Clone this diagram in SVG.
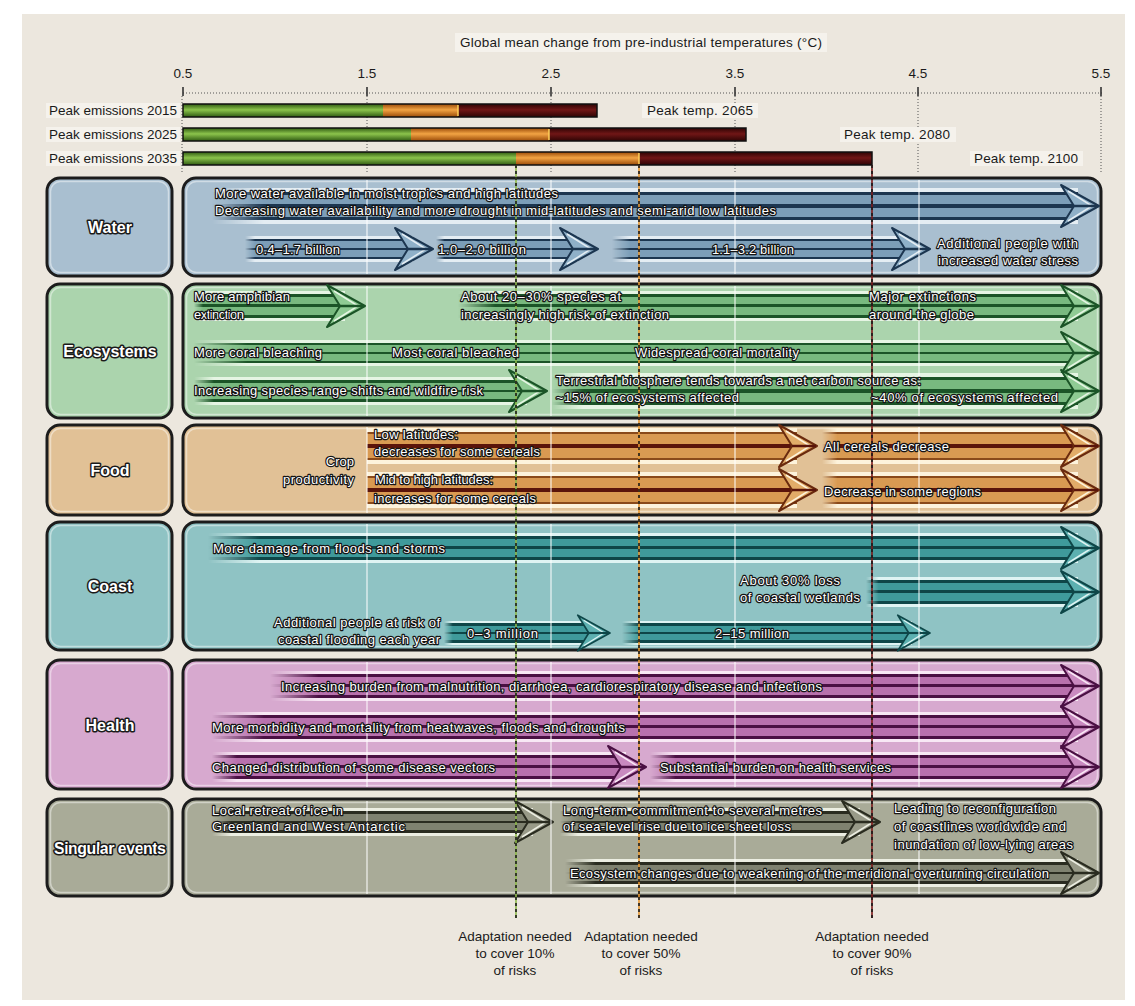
<svg xmlns="http://www.w3.org/2000/svg" width="1135" height="1006" viewBox="0 0 1135 1006">
<style>
.ax{font-family:"Liberation Sans Narrow","Liberation Sans",Arial,sans-serif;font-size:13.5px;fill:#1a1a1a}
.lab{font-family:"Liberation Sans Narrow","Liberation Sans",Arial,sans-serif;font-weight:bold;font-size:16px;fill:#fff;stroke:#1a1a1a;stroke-width:3;paint-order:stroke;stroke-linejoin:round;text-anchor:middle}
.t{font-family:"Liberation Sans Narrow","Liberation Sans",Arial,sans-serif;font-size:13px;fill:#fff;stroke:#151515;stroke-width:2.4;paint-order:stroke;stroke-linejoin:round}
.box{stroke:#1c1c1c;stroke-width:3}
.inner{fill:none;stroke:#ffffff;stroke-opacity:.45;stroke-width:1.5}
.grid{stroke:#ffffff;stroke-opacity:.85;stroke-width:1.2}
.dot{stroke:#555;stroke-width:1;stroke-dasharray:1 2}
.hb{fill:#f5f2ec}
</style>
<defs>
<linearGradient id="fg" x1="0" y1="0" x2="1" y2="0"><stop offset="0" stop-color="#000"/><stop offset="0.06" stop-color="#fff"/></linearGradient>
<mask id="fade" maskContentUnits="objectBoundingBox"><rect width="1" height="1" fill="url(#fg)"/></mask>
<linearGradient id="bW" x1="0" y1="0" x2="0" y2="1"><stop offset="0" stop-color="#e4edf3"/><stop offset=".1" stop-color="#e4edf3"/><stop offset=".1" stop-color="#1c3650"/><stop offset=".2" stop-color="#1c3650"/><stop offset=".2" stop-color="#7c9eb8"/><stop offset=".45" stop-color="#7c9eb8"/><stop offset=".45" stop-color="#1c3650"/><stop offset=".55" stop-color="#1c3650"/><stop offset=".55" stop-color="#7c9eb8"/><stop offset=".8" stop-color="#7c9eb8"/><stop offset=".8" stop-color="#1c3650"/><stop offset=".9" stop-color="#1c3650"/><stop offset=".9" stop-color="#e4edf3"/><stop offset="1" stop-color="#e4edf3"/></linearGradient>
<linearGradient id="bE" x1="0" y1="0" x2="0" y2="1"><stop offset="0" stop-color="#e6f5e4"/><stop offset=".1" stop-color="#e6f5e4"/><stop offset=".1" stop-color="#1b5427"/><stop offset=".2" stop-color="#1b5427"/><stop offset=".2" stop-color="#78b97f"/><stop offset=".45" stop-color="#78b97f"/><stop offset=".45" stop-color="#1b5427"/><stop offset=".55" stop-color="#1b5427"/><stop offset=".55" stop-color="#78b97f"/><stop offset=".8" stop-color="#78b97f"/><stop offset=".8" stop-color="#1b5427"/><stop offset=".9" stop-color="#1b5427"/><stop offset=".9" stop-color="#e6f5e4"/><stop offset="1" stop-color="#e6f5e4"/></linearGradient>
<linearGradient id="bF" x1="0" y1="0" x2="0" y2="1"><stop offset="0" stop-color="#fdf3dc"/><stop offset=".1" stop-color="#fdf3dc"/><stop offset=".1" stop-color="#8a4a1a"/><stop offset=".18" stop-color="#8a4a1a"/><stop offset=".18" stop-color="#d99a52"/><stop offset=".45" stop-color="#d99a52"/><stop offset=".45" stop-color="#5a140a"/><stop offset=".55" stop-color="#5a140a"/><stop offset=".55" stop-color="#d99a52"/><stop offset=".82" stop-color="#d99a52"/><stop offset=".82" stop-color="#8a4a1a"/><stop offset=".9" stop-color="#8a4a1a"/><stop offset=".9" stop-color="#fdf3dc"/><stop offset="1" stop-color="#fdf3dc"/></linearGradient>
<linearGradient id="bC" x1="0" y1="0" x2="0" y2="1"><stop offset="0" stop-color="#dff4f3"/><stop offset=".1" stop-color="#dff4f3"/><stop offset=".1" stop-color="#0e4648"/><stop offset=".2" stop-color="#0e4648"/><stop offset=".2" stop-color="#3f9a9b"/><stop offset=".45" stop-color="#3f9a9b"/><stop offset=".45" stop-color="#0e4648"/><stop offset=".55" stop-color="#0e4648"/><stop offset=".55" stop-color="#3f9a9b"/><stop offset=".8" stop-color="#3f9a9b"/><stop offset=".8" stop-color="#0e4648"/><stop offset=".9" stop-color="#0e4648"/><stop offset=".9" stop-color="#dff4f3"/><stop offset="1" stop-color="#dff4f3"/></linearGradient>
<linearGradient id="bH" x1="0" y1="0" x2="0" y2="1"><stop offset="0" stop-color="#f8e8f5"/><stop offset=".1" stop-color="#f8e8f5"/><stop offset=".1" stop-color="#4a1043"/><stop offset=".2" stop-color="#4a1043"/><stop offset=".2" stop-color="#b871ad"/><stop offset=".45" stop-color="#b871ad"/><stop offset=".45" stop-color="#4a1043"/><stop offset=".55" stop-color="#4a1043"/><stop offset=".55" stop-color="#b871ad"/><stop offset=".8" stop-color="#b871ad"/><stop offset=".8" stop-color="#4a1043"/><stop offset=".9" stop-color="#4a1043"/><stop offset=".9" stop-color="#f8e8f5"/><stop offset="1" stop-color="#f8e8f5"/></linearGradient>
<linearGradient id="bS" x1="0" y1="0" x2="0" y2="1"><stop offset="0" stop-color="#eceee2"/><stop offset=".1" stop-color="#eceee2"/><stop offset=".1" stop-color="#2a2c20"/><stop offset=".2" stop-color="#2a2c20"/><stop offset=".2" stop-color="#7f8270"/><stop offset=".45" stop-color="#7f8270"/><stop offset=".45" stop-color="#2a2c20"/><stop offset=".55" stop-color="#2a2c20"/><stop offset=".55" stop-color="#7f8270"/><stop offset=".8" stop-color="#7f8270"/><stop offset=".8" stop-color="#2a2c20"/><stop offset=".9" stop-color="#2a2c20"/><stop offset=".9" stop-color="#eceee2"/><stop offset="1" stop-color="#eceee2"/></linearGradient>
<linearGradient id="gG" x1="0" y1="0" x2="0" y2="1"><stop offset="0" stop-color="#2f5a12"/><stop offset=".45" stop-color="#8cc44c"/><stop offset="1" stop-color="#2f5a12"/></linearGradient>
<linearGradient id="gO" x1="0" y1="0" x2="0" y2="1"><stop offset="0" stop-color="#9a4a08"/><stop offset=".45" stop-color="#f2a444"/><stop offset="1" stop-color="#9a4a08"/></linearGradient>
<linearGradient id="gR" x1="0" y1="0" x2="0" y2="1"><stop offset="0" stop-color="#2e0404"/><stop offset=".45" stop-color="#701616"/><stop offset="1" stop-color="#2e0404"/></linearGradient>
<g id="hW"><polygon points="-38,-21 0,0 -38,21 -25,0" fill="#8fb0c8" stroke="#1c3650" stroke-width="2" stroke-linejoin="round"/><polyline points="-31,-15 -7,0 -31,15" fill="none" stroke="#e4edf3" stroke-width="1.5"/><line x1="-25" y1="0" x2="-1" y2="0" stroke="#1c3650" stroke-width="2.5"/></g>
<g id="hE"><polygon points="-38,-21 0,0 -38,21 -25,0" fill="#8fcb94" stroke="#1b5427" stroke-width="2" stroke-linejoin="round"/><polyline points="-31,-15 -7,0 -31,15" fill="none" stroke="#e6f5e4" stroke-width="1.5"/><line x1="-25" y1="0" x2="-1" y2="0" stroke="#1b5427" stroke-width="2.5"/></g>
<g id="hF"><polygon points="-38,-21 0,0 -38,21 -25,0" fill="#e2ac68" stroke="#6a2a0e" stroke-width="2" stroke-linejoin="round"/><polyline points="-31,-15 -7,0 -31,15" fill="none" stroke="#fdf3dc" stroke-width="1.5"/><line x1="-25" y1="0" x2="-1" y2="0" stroke="#5a140a" stroke-width="2.5"/></g>
<g id="hC"><polygon points="-38,-21 0,0 -38,21 -25,0" fill="#5cb0b0" stroke="#0e4648" stroke-width="2" stroke-linejoin="round"/><polyline points="-31,-15 -7,0 -31,15" fill="none" stroke="#dff4f3" stroke-width="1.5"/><line x1="-25" y1="0" x2="-1" y2="0" stroke="#0e4648" stroke-width="2.5"/></g>
<g id="hH"><polygon points="-38,-21 0,0 -38,21 -25,0" fill="#c98ac0" stroke="#4a1043" stroke-width="2" stroke-linejoin="round"/><polyline points="-31,-15 -7,0 -31,15" fill="none" stroke="#f8e8f5" stroke-width="1.5"/><line x1="-25" y1="0" x2="-1" y2="0" stroke="#4a1043" stroke-width="2.5"/></g>
<g id="hS"><polygon points="-38,-21 0,0 -38,21 -25,0" fill="#989a88" stroke="#2a2c20" stroke-width="2" stroke-linejoin="round"/><polyline points="-31,-15 -7,0 -31,15" fill="none" stroke="#eceee2" stroke-width="1.5"/><line x1="-25" y1="0" x2="-1" y2="0" stroke="#2a2c20" stroke-width="2.5"/></g>
</defs>

<rect width="1135" height="1006" fill="#ffffff"/>
<rect x="22" y="14" width="1103" height="986" fill="#ece7de"/>

<g id="axis">
<rect class="hb" x="455" y="33" width="372" height="19"/>
<text class="ax" x="641" y="47" text-anchor="middle" textLength="362">Global mean change from pre-industrial temperatures (°C)</text>
<text class="ax" x="183" y="78" text-anchor="middle">0.5</text>
<text class="ax" x="367" y="78" text-anchor="middle">1.5</text>
<text class="ax" x="551" y="78" text-anchor="middle">2.5</text>
<text class="ax" x="735" y="78" text-anchor="middle">3.5</text>
<text class="ax" x="918" y="78" text-anchor="middle">4.5</text>
<text class="ax" x="1101" y="78" text-anchor="middle">5.5</text>
<line class="dot" x1="183" y1="93" x2="1102" y2="93"/>
<g stroke="#333" stroke-width="1.6">
<line x1="183" y1="87" x2="183" y2="96"/><line x1="367" y1="87" x2="367" y2="96"/><line x1="551" y1="87" x2="551" y2="96"/><line x1="735" y1="87" x2="735" y2="96"/><line x1="918" y1="87" x2="918" y2="96"/><line x1="1101" y1="87" x2="1101" y2="96"/>
</g>
<g class="dot"><line x1="182" y1="96" x2="182" y2="172"/><line x1="367" y1="96" x2="367" y2="172"/><line x1="551" y1="96" x2="551" y2="172"/><line x1="735" y1="96" x2="735" y2="172"/><line x1="918" y1="96" x2="918" y2="172"/><line x1="1101" y1="96" x2="1101" y2="172"/></g>
</g>

<g id="bars">
<rect class="hb" x="46" y="103" width="134" height="15"/>
<rect class="hb" x="46" y="127" width="134" height="15"/>
<rect class="hb" x="46" y="151" width="134" height="15"/>
<text class="ax" x="177" y="115" text-anchor="end" textLength="128">Peak emissions 2015</text>
<text class="ax" x="177" y="139" text-anchor="end" textLength="128">Peak emissions 2025</text>
<text class="ax" x="177" y="163" text-anchor="end" textLength="128">Peak emissions 2035</text>
<rect x="183" y="104" width="200" height="13" fill="url(#gG)"/><rect x="383" y="104" width="75" height="13" fill="url(#gO)"/><rect x="458" y="104" width="139" height="13" fill="url(#gR)"/>
<line x1="458" y1="105" x2="458" y2="116" stroke="#ffd25a" stroke-width="1.5"/>
<rect x="183" y="104" width="414" height="13" fill="none" stroke="#111" stroke-width="1.5"/>
<rect x="183" y="128" width="228" height="13" fill="url(#gG)"/><rect x="411" y="128" width="138" height="13" fill="url(#gO)"/><rect x="549" y="128" width="197" height="13" fill="url(#gR)"/>
<line x1="549" y1="129" x2="549" y2="140" stroke="#ffd25a" stroke-width="1.5"/>
<rect x="183" y="128" width="563" height="13" fill="none" stroke="#111" stroke-width="1.5"/>
<rect x="183" y="152" width="333" height="13" fill="url(#gG)"/><rect x="516" y="152" width="123" height="13" fill="url(#gO)"/><rect x="639" y="152" width="233" height="13" fill="url(#gR)"/>
<line x1="639" y1="153" x2="639" y2="164" stroke="#ffd25a" stroke-width="1.5"/>
<rect x="183" y="152" width="689" height="13" fill="none" stroke="#111" stroke-width="1.5"/>
<rect class="hb" x="642" y="103" width="116" height="15"/>
<rect class="hb" x="840" y="127" width="116" height="15"/>
<rect class="hb" x="970" y="151" width="113" height="15"/>
<text class="ax" x="647" y="115" textLength="106">Peak temp. 2065</text>
<text class="ax" x="844" y="139" textLength="106">Peak temp. 2080</text>
<text class="ax" x="974" y="163" textLength="104">Peak temp. 2100</text>
</g>

<!-- Water -->
<g id="water">
<rect class="box" x="47" y="178" width="125" height="98" rx="13" fill="#a9bfd0"/>
<rect class="inner" x="50.5" y="181.5" width="118" height="91" rx="10"/>
<text class="lab" x="110" y="233">Water</text>
<rect class="box" x="183" y="178" width="918" height="98" rx="13" fill="#a9bfd0"/>
<rect class="inner" x="186.5" y="181.5" width="911" height="91" rx="10"/>
<rect x="212" y="188" width="866" height="36" fill="url(#bW)" mask="url(#fade)"/><use href="#hW" x="1099" y="206"/>
<rect x="245" y="236" width="168" height="26" fill="url(#bW)" mask="url(#fade)"/><use href="#hW" x="433" y="249"/>
<rect x="436" y="236" width="142" height="26" fill="url(#bW)" mask="url(#fade)"/><use href="#hW" x="598" y="249"/>
<rect x="612" y="236" width="298" height="26" fill="url(#bW)" mask="url(#fade)"/><use href="#hW" x="930" y="249"/>
</g>

<!-- Ecosystems -->
<g id="ecosystems">
<rect class="box" x="47" y="284" width="125" height="134" rx="13" fill="#abd4ad"/>
<rect class="inner" x="50.5" y="287.5" width="118" height="127" rx="10"/>
<text class="lab" x="110" y="357">Ecosystems</text>
<rect class="box" x="183" y="284" width="918" height="134" rx="13" fill="#abd4ad"/>
<rect class="inner" x="186.5" y="287.5" width="911" height="127" rx="10"/>
<rect x="194" y="291" width="151" height="30" fill="url(#bE)" mask="url(#fade)"/><use href="#hE" x="365" y="306"/>
<rect x="458" y="291" width="620" height="30" fill="url(#bE)" mask="url(#fade)"/><use href="#hE" x="1099" y="306"/>
<rect x="194" y="340" width="884" height="26" fill="url(#bE)" mask="url(#fade)"/><use href="#hE" x="1099" y="353"/>
<rect x="194" y="377" width="333" height="28" fill="url(#bE)" mask="url(#fade)"/><use href="#hE" x="547" y="391"/>
<rect x="552" y="373" width="526" height="36" fill="url(#bE)" mask="url(#fade)"/><use href="#hE" x="1099" y="391"/>
</g>

<!-- Food -->
<g id="food">
<rect class="box" x="47" y="425" width="125" height="90" rx="13" fill="#e1c196"/>
<rect class="inner" x="50.5" y="428.5" width="118" height="83" rx="10"/>
<text class="lab" x="110" y="476">Food</text>
<rect class="box" x="183" y="425" width="918" height="90" rx="13" fill="#e1c196"/>
<rect class="inner" x="186.5" y="428.5" width="911" height="83" rx="10"/>
<rect x="367" y="428" width="430" height="36" fill="url(#bF)"/><use href="#hF" x="817" y="446"/>
<rect x="822" y="428" width="256" height="36" fill="url(#bF)" mask="url(#fade)"/><use href="#hF" x="1099" y="446"/>
<rect x="367" y="472" width="430" height="36" fill="url(#bF)"/><use href="#hF" x="817" y="490"/>
<rect x="822" y="472" width="256" height="36" fill="url(#bF)" mask="url(#fade)"/><use href="#hF" x="1099" y="490"/>
</g>

<!-- Coast -->
<g id="coast">
<rect class="box" x="47" y="522" width="125" height="128" rx="13" fill="#8fc3c4"/>
<rect class="inner" x="50.5" y="525.5" width="118" height="121" rx="10"/>
<text class="lab" x="110" y="592">Coast</text>
<rect class="box" x="183" y="522" width="918" height="128" rx="13" fill="#8fc3c4"/>
<rect class="inner" x="186.5" y="525.5" width="911" height="121" rx="10"/>
<rect x="208" y="533" width="870" height="30" fill="url(#bC)" mask="url(#fade)"/><use href="#hC" x="1099" y="548"/>
<rect x="866" y="577" width="212" height="30" fill="url(#bC)" mask="url(#fade)"/><use href="#hC" x="1099" y="592"/>
<rect x="444" y="621" width="146" height="24" fill="url(#bC)" mask="url(#fade)"/><use href="#hC" transform="translate(610 633) scale(0.85)"/>
<rect x="622" y="621" width="290" height="24" fill="url(#bC)" mask="url(#fade)"/><use href="#hC" transform="translate(930 633) scale(0.85)"/>
</g>

<!-- Health -->
<g id="health">
<rect class="box" x="47" y="660" width="125" height="129" rx="13" fill="#d7a9cf"/>
<rect class="inner" x="50.5" y="663.5" width="118" height="122" rx="10"/>
<text class="lab" x="110" y="731">Health</text>
<rect class="box" x="183" y="660" width="918" height="129" rx="13" fill="#d7a9cf"/>
<rect class="inner" x="186.5" y="663.5" width="911" height="122" rx="10"/>
<rect x="270" y="671" width="808" height="30" fill="url(#bH)" mask="url(#fade)"/><use href="#hH" x="1099" y="686"/>
<rect x="212" y="712" width="866" height="30" fill="url(#bH)" mask="url(#fade)"/><use href="#hH" x="1099" y="727"/>
<rect x="212" y="752" width="414" height="30" fill="url(#bH)" mask="url(#fade)"/><use href="#hH" x="646" y="767"/>
<rect x="650" y="752" width="428" height="30" fill="url(#bH)" mask="url(#fade)"/><use href="#hH" x="1099" y="767"/>
</g>

<!-- Singular events -->
<g id="singular">
<rect class="box" x="47" y="799" width="125" height="97" rx="13" fill="#a9ab98"/>
<rect class="inner" x="50.5" y="802.5" width="118" height="90" rx="10"/>
<text class="lab" x="110" y="854" textLength="112">Singular events</text>
<rect class="box" x="183" y="799" width="918" height="97" rx="13" fill="#a9ab98"/>
<rect class="inner" x="186.5" y="802.5" width="911" height="90" rx="10"/>
<rect x="212" y="808" width="321" height="28" fill="url(#bS)" mask="url(#fade)"/><use href="#hS" x="553" y="822"/>
<rect x="560" y="808" width="300" height="28" fill="url(#bS)" mask="url(#fade)"/><use href="#hS" x="880" y="822"/>
<rect x="565" y="859" width="513" height="28" fill="url(#bS)" mask="url(#fade)"/><use href="#hS" x="1099" y="873"/>
</g>

<g id="gridlines">
<g class="grid">
<line x1="367" y1="180" x2="367" y2="274"/><line x1="551" y1="180" x2="551" y2="274"/><line x1="735" y1="180" x2="735" y2="274"/><line x1="919" y1="180" x2="919" y2="274"/>
<line x1="367" y1="286" x2="367" y2="416"/><line x1="551" y1="286" x2="551" y2="416"/><line x1="735" y1="286" x2="735" y2="416"/><line x1="919" y1="286" x2="919" y2="416"/>
<line x1="367" y1="427" x2="367" y2="513"/><line x1="551" y1="427" x2="551" y2="513"/><line x1="735" y1="427" x2="735" y2="513"/><line x1="919" y1="427" x2="919" y2="513"/>
<line x1="367" y1="524" x2="367" y2="648"/><line x1="551" y1="524" x2="551" y2="648"/><line x1="735" y1="524" x2="735" y2="648"/><line x1="919" y1="524" x2="919" y2="648"/>
<line x1="367" y1="662" x2="367" y2="787"/><line x1="551" y1="662" x2="551" y2="787"/><line x1="735" y1="662" x2="735" y2="787"/><line x1="919" y1="662" x2="919" y2="787"/>
<line x1="367" y1="801" x2="367" y2="894"/><line x1="551" y1="801" x2="551" y2="894"/><line x1="735" y1="801" x2="735" y2="894"/><line x1="919" y1="801" x2="919" y2="894"/>
</g>
</g>

<g id="connectors">
<line x1="516" y1="165" x2="516" y2="918" stroke="#8cb848" stroke-width="1.6"/>
<line x1="516" y1="165" x2="516" y2="918" stroke="#1a1a1a" stroke-width="1.6" stroke-dasharray="3 3"/>
<line x1="639" y1="165" x2="639" y2="918" stroke="#e8962e" stroke-width="1.6"/>
<line x1="639" y1="165" x2="639" y2="918" stroke="#1a1a1a" stroke-width="1.6" stroke-dasharray="3 3"/>
<line x1="872" y1="165" x2="872" y2="918" stroke="#7a1a1a" stroke-width="1.6"/>
<line x1="872" y1="165" x2="872" y2="918" stroke="#1a1a1a" stroke-width="1.6" stroke-dasharray="3 3"/>
</g>

<g id="texts">
<text class="t" x="215" y="198" textLength="343">More water available in moist tropics and high latitudes</text>
<text class="t" x="215" y="215" textLength="561">Decreasing water availability and more drought in mid-latitudes and semi-arid low latitudes</text>
<text class="t" x="256" y="254" textLength="84">0.4–1.7 billion</text>
<text class="t" x="438" y="254" textLength="88">1.0–2.0 billion</text>
<text class="t" x="712" y="254" textLength="82">1.1–3.2 billion</text>
<text class="t" x="937" y="248" textLength="141">Additional people with</text>
<text class="t" x="938" y="265" textLength="140">increased water stress</text>

<text class="t" x="194" y="301" textLength="96">More amphibian</text>
<text class="t" x="194" y="319" textLength="50">extinction</text>
<text class="t" x="461" y="301" textLength="160">About 20–30% species at</text>
<text class="t" x="461" y="319" textLength="208">increasingly high risk of extinction</text>
<text class="t" x="869" y="301" textLength="107">Major extinctions</text>
<text class="t" x="869" y="319" textLength="105">around the globe</text>
<text class="t" x="194" y="357" textLength="128">More coral bleaching</text>
<text class="t" x="392" y="357" textLength="127">Most coral bleached</text>
<text class="t" x="635" y="357" textLength="164">Widespread coral mortality</text>
<text class="t" x="194" y="395" textLength="289">Increasing species range shifts and wildfire risk</text>
<text class="t" x="556" y="385" textLength="365">Terrestrial biosphere tends towards a net carbon source as:</text>
<text class="t" x="556" y="402" textLength="183">~15% of ecosystems affected</text>
<text class="t" x="871" y="402" textLength="187">~40% of ecosystems affected</text>

<text class="t" x="354" y="466" text-anchor="end">Crop</text>
<text class="t" x="354" y="484" text-anchor="end" textLength="71">productivity</text>
<text class="t" x="374" y="439" textLength="84">Low latitudes:</text>
<text class="t" x="374" y="456" textLength="166">decreases for some cereals</text>
<text class="t" x="824" y="451" textLength="125">All cereals decrease</text>
<text class="t" x="375" y="484" textLength="118">Mid to high latitudes:</text>
<text class="t" x="374" y="503" textLength="162">increases for some cereals</text>
<text class="t" x="824" y="496" textLength="157">Decrease in some regions</text>

<text class="t" x="213" y="553" textLength="232">More damage from floods and storms</text>
<text class="t" x="740" y="585" textLength="100">About 30% loss</text>
<text class="t" x="740" y="602" textLength="120">of coastal wetlands</text>
<text class="t" x="440" y="627" text-anchor="end" textLength="166">Additional people at risk of</text>
<text class="t" x="440" y="644" text-anchor="end" textLength="162">coastal flooding each year</text>
<text class="t" x="467" y="638" textLength="71">0–3 million</text>
<text class="t" x="715" y="638" textLength="74">2–15 million</text>

<text class="t" x="281" y="691" textLength="541">Increasing burden from malnutrition, diarrhoea, cardiorespiratory disease and infections</text>
<text class="t" x="212" y="732" textLength="413">More morbidity and mortality from heatwaves, floods and droughts</text>
<text class="t" x="212" y="772" textLength="283">Changed distribution of some disease vectors</text>
<text class="t" x="660" y="772" textLength="231">Substantial burden on health services</text>

<text class="t" x="212" y="815" textLength="131">Local retreat of ice in</text>
<text class="t" x="212" y="831" textLength="193">Greenland and West Antarctic</text>
<text class="t" x="563" y="815" textLength="259">Long-term commitment to several metres</text>
<text class="t" x="563" y="831" textLength="228">of sea-level rise due to ice sheet loss</text>
<text class="t" x="894" y="813" textLength="162">Leading to reconfiguration</text>
<text class="t" x="894" y="831" textLength="172">of coastlines worldwide and</text>
<text class="t" x="894" y="849" textLength="179">inundation of low-lying areas</text>
<text class="t" x="570" y="878" textLength="479">Ecosystem changes due to weakening of the meridional overturning circulation</text>
</g>

<g id="adaptation-labels">
<text class="ax" x="515" y="941" text-anchor="middle">Adaptation needed</text>
<text class="ax" x="515" y="958" text-anchor="middle">to cover 10%</text>
<text class="ax" x="515" y="975" text-anchor="middle">of risks</text>
<text class="ax" x="641" y="941" text-anchor="middle">Adaptation needed</text>
<text class="ax" x="641" y="958" text-anchor="middle">to cover 50%</text>
<text class="ax" x="641" y="975" text-anchor="middle">of risks</text>
<text class="ax" x="872" y="941" text-anchor="middle">Adaptation needed</text>
<text class="ax" x="872" y="958" text-anchor="middle">to cover 90%</text>
<text class="ax" x="872" y="975" text-anchor="middle">of risks</text>
</g>
</svg>
